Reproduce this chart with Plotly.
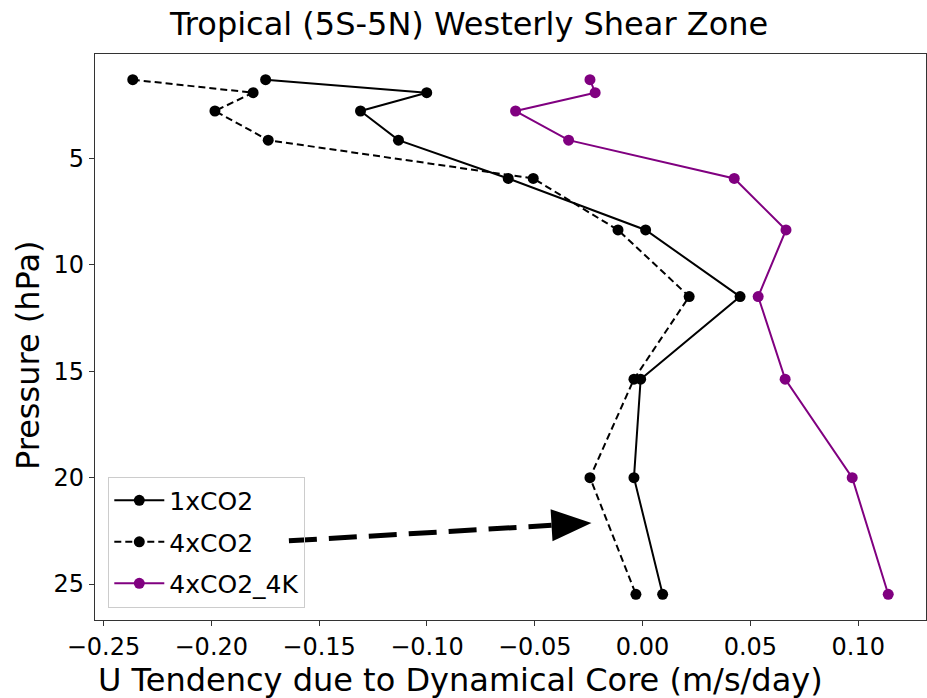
import plotly.graph_objects as go

# Pressure levels (hPa) and zonal-wind tendencies (m/s/day)
pressure = [1.30, 1.91, 2.77, 4.14, 5.94, 8.36, 11.49, 15.37, 20.0, 25.48]
u_1xco2 = [-0.1748, -0.1001, -0.1308, -0.1132, -0.0623, 0.0014, 0.0452, -0.0009, -0.0040, 0.0093]
u_4xco2 = [-0.2364, -0.1806, -0.1983, -0.1736, -0.0507, -0.0114, 0.0216, -0.0040, -0.0244, -0.0031]
u_4xco2_4k = [-0.0244, -0.0220, -0.0589, -0.0343, 0.0425, 0.0665, 0.0536, 0.0661, 0.0972, 0.1139]

x_ticks = [-0.25, -0.20, -0.15, -0.10, -0.05, 0.00, 0.05, 0.10]
y_ticks = [5, 10, 15, 20, 25]

# Annotation arrow (data coordinates): tail and tip
arrow_tail = (-0.164, 22.97)
arrow_tip = (-0.0237, 22.13)

FONT = "DejaVu Sans"
W, H = 927, 698
L, R, T, B = 95, 1, 54, 78

# matplotlib-style 5% padding on both axes
def padded(vals, frac=0.05):
    lo, hi = min(vals), max(vals)
    d = (hi - lo) * frac
    return lo - d, hi + d

all_u = u_1xco2 + u_4xco2 + u_4xco2_4k
x_lo, x_hi = padded(all_u)
y_lo, y_hi = padded(pressure)

fig = go.Figure()
fig.add_trace(go.Scatter(x=u_1xco2, y=pressure, name="1xCO2", mode="lines+markers",
                         legendgroup="a",
                         line=dict(color="black", width=2),
                         marker=dict(color="black", size=11)))
fig.add_trace(go.Scatter(x=u_4xco2, y=pressure, name="4xCO2", mode="lines+markers",
                         legendgroup="b",
                         line=dict(color="black", width=2, dash="7px,4px"),
                         marker=dict(color="black", size=11)))
fig.add_trace(go.Scatter(x=u_4xco2_4k, y=pressure, name="4xCO2_4K", mode="lines+markers",
                         legendgroup="c",
                         line=dict(color="#800080", width=2),
                         marker=dict(color="#800080", size=11)))

# pixel <-> data helpers for the arrow head
pw, ph = W - L - R, H - T - B
def to_px(x, y):
    return ((x - x_lo) / (x_hi - x_lo) * pw, (y - y_lo) / (y_hi - y_lo) * ph)
def to_data(px, py):
    return (x_lo + px / pw * (x_hi - x_lo), y_lo + py / ph * (y_hi - y_lo))

tx, ty = to_px(*arrow_tail)
hx, hy = to_px(*arrow_tip)
dx, dy = hx - tx, hy - ty
n = (dx ** 2 + dy ** 2) ** 0.5
ux, uy = dx / n, dy / n
head_len, head_half = 40, 16
bx, by = hx - head_len * ux, hy - head_len * uy
c1 = to_data(bx - head_half * uy, by + head_half * ux)
c2 = to_data(bx + head_half * uy, by - head_half * ux)
base = to_data(bx, by)

fig.add_shape(type="line", xref="x", yref="y",
              x0=arrow_tail[0], y0=arrow_tail[1], x1=base[0], y1=base[1],
              line=dict(color="black", width=5, dash="28px,12px"))
fig.add_shape(type="path", xref="x", yref="y",
              path=f"M {arrow_tip[0]},{arrow_tip[1]} L {c1[0]},{c1[1]} L {c2[0]},{c2[1]} Z",
              fillcolor="black", line=dict(color="black", width=0))

axis_common = dict(showline=True, linecolor="#333333", linewidth=1.2, mirror=True,
                   ticks="outside", ticklen=5, tickcolor="#333333", showgrid=False,
                   zeroline=False, tickfont=dict(family=FONT, size=24, color="black"))

fig.update_layout(
    width=W, height=H,
    margin=dict(l=L, r=R, t=T, b=B),
    paper_bgcolor="white", plot_bgcolor="white",
    font=dict(family=FONT, color="black"),
    xaxis=dict(range=[x_lo, x_hi], tickvals=x_ticks, tickformat=".2f", **axis_common),
    yaxis=dict(range=[y_hi, y_lo], tickvals=y_ticks, **axis_common),
    showlegend=True,
    legend=dict(x=0.016, y=0.022, xanchor="left", yanchor="bottom",
                bgcolor="rgba(255,255,255,0)", bordercolor="#cccccc", borderwidth=1,
                font=dict(family=FONT, size=25, color="black"), itemwidth=50,
                tracegroupgap=6),
    annotations=[
        dict(text="Tropical (5S-5N) Westerly Shear Zone", xref="paper", yref="paper",
             x=(468 - L) / pw, y=1 + (T - 24) / ph, xanchor="center", yanchor="middle",
             showarrow=False, font=dict(family=FONT, size=32, color="black")),
        dict(text="U Tendency due to Dynamical Core (m/s/day)", xref="paper", yref="paper",
             x=(460 - L) / pw, y=-(680 - (H - B)) / ph, xanchor="center", yanchor="middle",
             showarrow=False, font=dict(family=FONT, size=32, color="black")),
        dict(text="Pressure (hPa)", xref="paper", yref="paper",
             x=-(L - 28) / pw, y=1 - (355 - T) / ph, xanchor="center", yanchor="middle",
             textangle=-90, showarrow=False, font=dict(family=FONT, size=32, color="black")),
    ],
)

fig.write_html("out.html")
